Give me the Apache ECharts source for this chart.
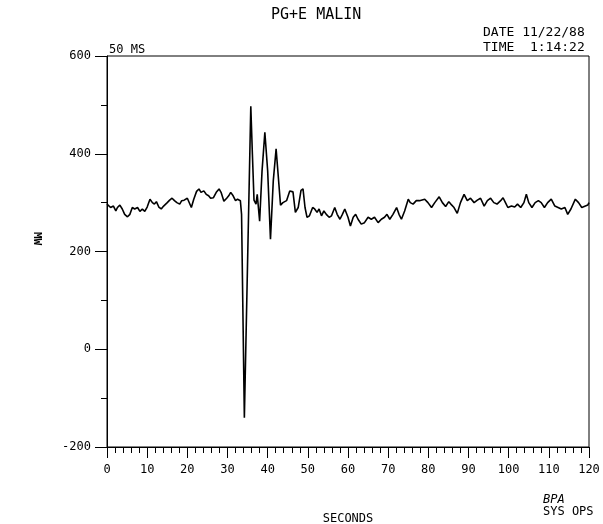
<!DOCTYPE html>
<html>
<head>
<meta charset="utf-8">
<style>
  html, body { margin: 0; padding: 0; background: #fff; }
  #chart { width: 603px; height: 524px; }
</style>
<script src="https://cdn.jsdelivr.net/npm/echarts@6/dist/echarts.min.js"></script>
</head>
<body>
<div id="chart"></div>
<script>
// PG+E MALIN, 11/22/88 1:14:22 — power flow (MW) vs seconds
var seconds = [
  0, 0.4, 0.9, 1.6, 2.2, 2.6, 3.2, 3.8, 4.4, 5.1, 5.7, 6.3, 6.9, 7.6, 8.2, 8.8, 9.4,
  10, 10.7, 11.3, 11.8, 12.3, 12.9, 13.5, 14.1, 15, 15.6, 16.2, 16.8, 17.4, 18.1, 18.6, 19.2,
  20, 20.4, 21, 21.6, 22.3, 22.9, 23.4, 24.1, 24.7, 25.3, 25.8, 26.5, 27.2, 27.9, 28.4, 29.1, 29.8,
  30.3, 30.8, 31.4, 32, 32.5, 33.2, 33.5, 34.2, 35.8, 36.2, 36.6, 37.1, 37.4, 38, 38.6, 39.3,
  40, 40.7, 41.4, 42.1, 42.6, 43.2, 43.8, 44.7, 45.5, 46.3, 46.9, 47.6, 48.3, 48.8,
  49.3, 49.8, 50.4, 51.2, 51.7, 52.3, 52.8, 53.4, 54, 54.6, 55.3, 55.9, 56.7, 57.3, 58, 58.6, 59.2,
  60, 60.6, 61.3, 61.9, 62.5, 63.3, 64.1, 65, 65.8, 66.6, 67.5, 68.3, 69.1, 69.7,
  70.4, 71.2, 72.1, 72.7, 73.3, 74.1, 75, 75.5, 76.2, 77, 77.8, 79.1, 79.9,
  80.8, 81.6, 82.7, 83.5, 84.3, 85.1, 85.6, 86.4, 87.2, 88, 88.9, 89.7,
  90.5, 91.4, 92.2, 93, 93.9, 94.7, 95.5, 96.3, 97.1, 98, 98.6, 99.2, 99.8,
  100.7, 101.5, 102.2, 103, 103.8, 104.4, 105, 105.8, 106.6, 107.4, 108.1, 108.9, 109.7,
  110.6, 111.5, 112.3, 113.1, 114, 114.7, 115.5, 116.6, 117.4, 118.2, 119.1, 119.7, 120
];
var mw = [
  297, 293, 290, 293, 283, 290, 295, 287, 276, 271, 276, 290, 287, 290, 282, 287, 282,
  291, 307, 300, 297, 302, 291, 287, 293, 300, 305, 309, 304, 300, 297, 304, 305,
  309, 312, 290, 307, 323, 328, 321, 324, 317, 314, 309, 310, 321, 328, 321, 303, 309,
  314, 321, 314, 304, 307, 304, 276, -140, 497, 399, 305, 297, 317, 262, 365, 444,
  365, 225, 345, 410, 358, 295, 300, 304, 324, 322, 280, 290, 325, 328,
  290, 270, 273, 290, 287, 280, 287, 273, 283, 276, 270, 273, 290, 276, 266, 276, 287,
  270, 252, 270, 276, 266, 256, 259, 270, 266, 270, 259, 266, 270, 276,
  266, 276, 290, 276, 266, 283, 307, 300, 297, 304, 304, 307, 300,
  290, 300, 312, 300, 292, 302, 297, 290, 278, 300, 317, 304,
  309, 300, 305, 309, 293, 304, 309, 300, 297, 304, 310, 300, 290,
  293, 291, 297, 290, 300, 317, 300, 290, 300, 304, 300, 290, 300,
  307, 293, 290, 287, 290, 276, 287, 307, 300, 290, 293, 295, 300
];

var FONT = "'DejaVu Sans Mono', monospace";

var chart = echarts.init(document.getElementById('chart'));

var points = seconds.map(function (t, i) { return [t, mw[i]]; });

chart.setOption({
  animation: false,
  backgroundColor: '#fff',
  grid: {
    left: 107,
    right: 14,
    top: 56,
    bottom: 77,
    show: true,
    borderColor: '#000',
    borderWidth: 1,
    containLabel: false,
    outerBoundsMode: 'none'
  },
  xAxis: {
    type: 'value',
    min: 0,
    max: 120,
    interval: 10,
    name: 'SECONDS',
    nameLocation: 'middle',
    nameGap: 66,
    nameTextStyle: { fontFamily: FONT, fontSize: 12, color: '#000' },
    axisLine: { show: true, onZero: false, lineStyle: { color: '#000', width: 1 } },
    axisTick: { show: true, length: 11, lineStyle: { color: '#000' } },
    minorTick: { show: true, splitNumber: 5, length: 6, lineStyle: { color: '#000' } },
    axisLabel: { margin: 17, fontFamily: FONT, fontSize: 12, color: '#000' },
    splitLine: { show: false }
  },
  yAxis: {
    type: 'value',
    min: -200,
    max: 600,
    interval: 200,
    axisLine: { show: true, onZero: false, lineStyle: { color: '#000', width: 1 } },
    axisTick: { show: true, length: 12, lineStyle: { color: '#000' } },
    minorTick: { show: true, splitNumber: 2, length: 6, lineStyle: { color: '#000' } },
    axisLabel: { margin: 16, fontFamily: FONT, fontSize: 12, color: '#000' },
    splitLine: { show: false }
  },
  graphic: [
    {
      type: 'text', left: 271, top: 8,
      style: { text: 'PG+E MALIN', font: "15px 'DejaVu Sans Mono'", fill: '#000' }
    },
    {
      type: 'text', left: 483, top: 26,
      style: { text: 'DATE 11/22/88', font: "13px 'DejaVu Sans Mono'", fill: '#000' }
    },
    {
      type: 'text', left: 483, top: 41,
      style: { text: 'TIME  1:14:22', font: "13px 'DejaVu Sans Mono'", fill: '#000' }
    },
    {
      type: 'text', left: 109, top: 44,
      style: { text: '50 MS', font: "12px 'DejaVu Sans Mono'", fill: '#000' }
    },
    {
      type: 'text', x: 42, y: 232, rotation: -Math.PI / 2,
      style: { text: 'MW', font: "bold 11px 'DejaVu Sans Mono'", fill: '#000' }
    },
    {
      type: 'text', left: 543, top: 494,
      style: { text: 'BPA', font: "italic 12px 'DejaVu Sans Mono'", fill: '#000' }
    },
    {
      type: 'text', left: 543, top: 506,
      style: { text: 'SYS OPS', font: "12px 'DejaVu Sans Mono'", fill: '#000' }
    }
  ],
  series: [{
    name: 'MW',
    type: 'line',
    data: points,
    showSymbol: false,
    smooth: false,
    lineStyle: { color: '#000', width: 1.6 },
    itemStyle: { color: '#000' }
  }]
});
</script>
</body>
</html>
